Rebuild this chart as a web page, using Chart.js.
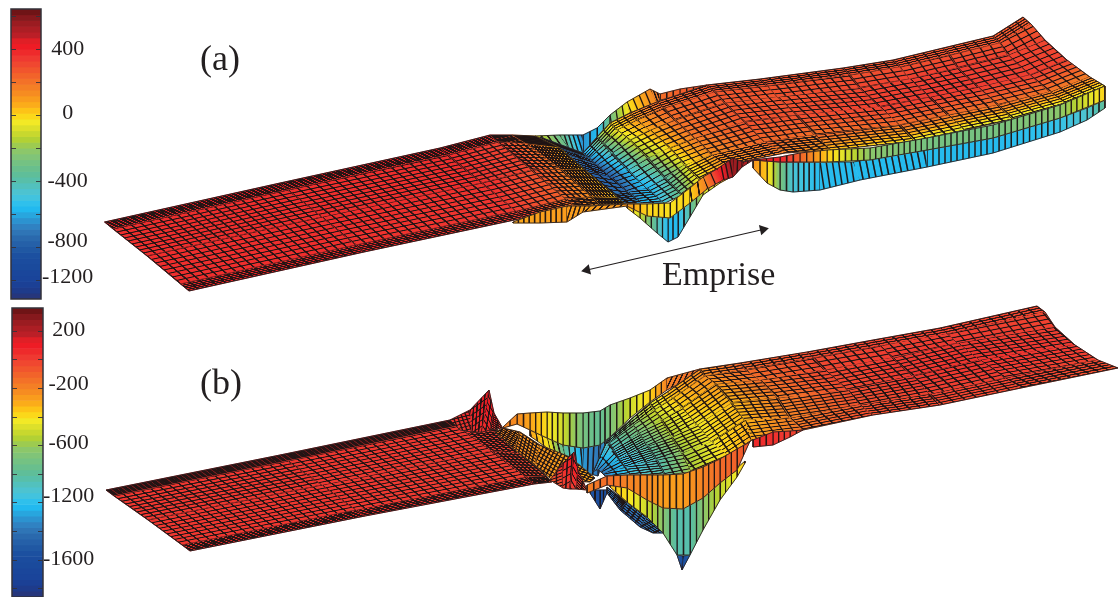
<!DOCTYPE html>
<html>
<head>
<meta charset="utf-8">
<script src="https://cdn.jsdelivr.net/npm/chart.js@4/dist/chart.umd.min.js"></script>
<style>
body { margin: 0; background: #fff; width: 1119px; height: 597px; overflow: hidden; position: relative; }
canvas { position: absolute; display: block; }
.txt { position: absolute; font-family: "Liberation Serif", serif; color: #231f20; line-height: 1; white-space: nowrap; }
</style>
</head>
<body>
<canvas id="bar-a" width="100" height="304" style="left:0;top:0"></canvas>
<canvas id="bar-b" width="100" height="293" style="left:0;top:304px"></canvas>
<canvas id="surface" width="1019" height="597" style="left:100px;top:0"></canvas>
<div class="txt" style="left:200px;top:40px;font-size:36px">(a)</div>
<div class="txt" style="left:200px;top:364px;font-size:36px">(b)</div>
<div class="txt" style="left:662px;top:257px;font-size:34px">Emprise</div>
<script>
// ==================== COLOUR BARS ====================
const bandColors = ['#6f1416','#86191d','#9b1c21','#ac1e24','#bb1f27','#e01f26','#ee1c25','#ee2a2b','#ef3931','#f04730',
  '#f1552d','#f2632a','#f37128','#f47f25','#f68c21','#f99c1d','#fbac1a','#fdc317','#fbd81a','#f2e926',
  '#dde02a','#c8d82e','#b2d134','#9dcb50','#8cc76a','#80c478','#74c283','#69bf8d','#5fbe99','#58bfa9',
  '#52c1bd','#4dc3d0','#42c3de','#2fc0ec','#22b9ef','#28a6de','#2c93d0','#3082c2','#2f75b6','#2a69ad',
  '#2560a8','#2058a3','#1c50a0','#1b4c9e','#1a4a9c','#1a469b','#1a449a','#1b4095','#1e3b8b','#26367c'];

const barARange = [-1113, 644];
const barATicks = [600, 400, 200, 0, -200, -400, -600, -800, -1000];
const barALabels = ['400', '0', '-400', '-800', '-1200'];
const barALabelAt = [400, 14, -398, -762, -980];

const barBRange = [-1662, 359];
const barBTicks = [200, 0, -200, -400, -600, -800, -1000, -1200, -1400, -1600];
const barBLabels = ['200', '-200', '-600', '-1200', '-1600'];
const barBLabelAt = [205, -173, -585, -956, -1396];

// ==================== PANEL (a) ====================
// back wall behind the bowl
const aBackX = [[535,560,583,597,610,627,650,660,680,707],[535,570,583,597,610,630,657,660,680,707]];
const aBackY = [[136,135,135,128,115,102,89,94,89,85],[136,149,153,137,123,113,102,100,96,87]];
const aBackZ = [-60,-330,-640,-560,-300,-20,150,210,250,290];
const aBackCols = [4,4,2,2,3,4,2,3,4];

// right hand surface, bowl included
const aRightX = [
  [540,583,597,610,630,657,707,760,843,893,943,993,1023],
  [545,589,604,617,637,664,715,767,850,900,950,1000,1031],
  [552,597,612,630,650,675,725,778,860,910,958,1008,1045],
  [575,612,628,648,670,695,745,797,880,930,978,1030,1067],
  [610,628,647,665,685,712,765,815,900,948,998,1050,1090],
  [625,643,665,682,700,725,785,832,915,965,1013,1065,1105]];
const aRightY = [
  [137,153,137,123,113,102,85,79,68,60,48,36,17],
  [143,158,144,130,120,108,92,86,75,67,55,43,24],
  [150,165,153,140,130,120,103,97,88,79,68,55,40],
  [168,178,170,158,148,138,122,115,107,97,87,75,60],
  [195,192,188,178,165,155,142,135,125,115,105,92,77],
  [204,203,203,195,180,165,153,150,141,130,119,103,86]];
const aRightZ = [
  [-760,-640,-230,-20,110,230,280,280,280,280,270,270,260],
  [-760,-680,-300,-30,100,225,275,280,290,290,290,280,270],
  [-760,-720,-420,-70,70,210,270,280,310,330,330,320,310],
  [-760,-800,-520,-200,10,180,280,290,330,340,340,330,320],
  [-760,-700,-560,-420,-50,130,230,210,220,210,200,200,160],
  [-760,-560,-500,-290,-30,100,170,60,-60,-90,-90,-70,-20]];
const aRightCols = [3,2,2,3,3,6,6,9,5,5,5,4];
const aRightRows = [4,3,5,5,6];

// front walls of the right strip
const aTopWallX = [[753,780,800,827,870,927,993,1060,1105],[753,780,800,827,870,927,993,1060,1105]];
const aTopWallY = [[160,157,153,150,148,138,125,105,86],[160,162,162,162,160,150,138,118,100]];
const aTopWallZ = [450,400,240,20,-220,-280,-280,-220,10];
const aTopWallCols = [4,3,4,7,10,11,11,8];

const aLowWallX = [[753,767,780,793,820,853,927,993,1060,1087,1105],[753,767,780,793,820,860,927,993,1060,1087,1105]];
const aLowWallY = [[160,161,162,162,162,162,150,138,118,108,100],[168,183,190,192,190,180,167,153,132,120,108]];
const aLowWallZ = [120,20,-260,-480,-550,-560,-560,-560,-520,-460,-360];
const aLowWallCols = [2,2,2,5,6,11,11,11,4,3];

// long flat strip on the left, up to the ridge
const aLeftX = [
  [104.5,280,440,490,512,535],
  [113,288,448,498,527,560],
  [147,322,482,532,562,585],
  [180.5,356,516,566,592,618],
  [189,364,524,575,600,625]];
const aLeftY = [
  [222,183,148,135,135,136],
  [229,190,155,142,144,148],
  [256,217,183,170,170,170],
  [284,245,211,199,197,198],
  [291,252,218,206,205,204]];
const aLeftZ = [
  [420,420,420,380,240,60],
  [370,370,370,330,220,40],
  [370,370,370,300,180,30],
  [370,370,340,230,120,20],
  [400,400,340,200,100,10]];
const aLeftCols = [19,17,6,5,8];
const aLeftRows = [6,9,8,5];

// front ribbon around the bowl
const aRibbonX = [[513,540,567,590,627,647,670,690,703,717,733,743,753],[513,540,567,583,627,647,670,690,707,723,733,742,753]];
const aRibbonY = [[222,212,206,206,204,204,203,188,177,169,158,162,160],[223,223,222,212,206,216,218,203,189,180,177,167,160]];
const aRibbonZ = [70,90,100,90,110,0,-20,0,150,400,560,530,450];
const aRibbonCols = [5,5,4,6,3,4,3,2,2,3,2,2];

const aFrontX = [[627,640,657,668,678,690,703,720,733,742],[627,640,657,668,678,690,703,720,733,742]];
const aFrontY = [[204,210,214,214,208,198,188,180,172,165],[208,218,233,242,237,217,195,183,176,167]];
const aFrontZ = [60,-100,-400,-560,-560,-380,-120,0,40,100];
const aFrontCols = [2,3,2,2,2,2,3,2,2];

// ==================== PANEL (b) ====================
const bWallLowX = [[530,547,563,583,600,610],[530,550,567,583,598,610]];
const bWallLowY = [[430,438,445,448,445,437],[436,450,462,472,476,438]];
const bWallLowZ = [-290,-420,-780,-1100,-1200,-1000];
const bWallLowCols = [3,3,3,3,2];

const bWallTopX = [[503,517,530,547,563,583,600,610,630,650,667,700],[503,517,530,547,563,583,600,610,630,650,667,690]];
const bWallTopY = [[427,414,413,412,413,413,411,405,398,390,378,369],[428,424,430,438,445,448,445,437,418,402,390,378]];
const bWallTopZ = [-200,-230,-290,-400,-500,-700,-780,-680,-500,-380,-200,-130];
const bWallTopCols = [2,2,3,3,3,3,2,3,3,3,5];

const bRightX = [
  [607,630,650,667,700,740,807,873,940,1037],
  [609,633,654,673,705,746,814,880,948,1045],
  [613,639,662,682,716,760,825,893,958,1055],
  [619,648,672,697,732,778,848,913,980,1075],
  [625,657,682,712,745,790,860,930,1005,1098],
  [631,665,692,728,752,803,873,940,1021,1118]];
const bRightY = [
  [440,420,403,392,369,363,352,340,328,306],
  [443,425,410,398,376,370,358,346,334,312],
  [450,433,420,408,384,380,370,358,343,327],
  [459,446,437,425,403,398,390,376,360,345],
  [467,460,453,442,420,418,405,394,378,360],
  [475,475,472,455,440,430,415,405,388,368]];
const bRightZ = [
  [-820,-640,-480,-330,-220,-110,-40,-20,-10,-30],
  [-850,-660,-490,-350,-230,-120,-30,-5,0,-20],
  [-920,-700,-520,-380,-260,-140,-20,10,20,-10],
  [-1000,-780,-560,-420,-340,-180,-40,20,30,20],
  [-1000,-860,-600,-420,-320,-200,-60,-10,0,-20],
  [-920,-820,-560,-380,-300,-140,-40,-30,-30,-60]];
const bRightCols = [3,3,3,4,5,7,7,7,10];
const bRightRows = [3,3,6,6,5];

// lower corner of the bowl, it closes to a point
const bCornerX = [[593,607],[596,609],[598,613],[601,619],[603,625],[605,631]];
const bCornerY = [[472,440],[470,443],[470,450],[472,459],[474,467],[476,475]];
const bCornerZ = [[-1180,-820],[-1180,-850],[-1180,-920],[-1180,-1000],[-1180,-1000],[-1180,-920]];
const bCornerCols = [2];
const bCornerRows = [1,1,2,2,2];

const bRedPieceX = [[753,773,790,803],[753,773,790,803]];
const bRedPieceY = [[440,432,431,430],[447,445,437,430]];
const bRedPieceZ = [60,40,0,-30];
const bRedPieceCols = [3,3,2];

const bLeftX = [
  [106,280,450,495],
  [114,288,458,501],
  [148,322,492,523],
  [182,356,526,546],
  [190,365,534,552]];
const bLeftY = [
  [490,455,420,427],
  [496,461,426,433],
  [520,485,451,454],
  [545,510,477,476],
  [551,516,484,482]];
const bLeftZ = [
  [90,90,90,30],
  [20,20,20,-10],
  [20,20,10,-30],
  [20,20,0,-50],
  [60,60,30,-60]];
const bLeftCols = [19,18,6];
const bLeftRows = [6,9,9,5];

const bSpikeX = [[450,470,489,494,502],[460,472,482,490,502]];
const bSpikeY = [[420,410,390,413,427],[430,432,432,430,428]];
const bSpikeZ = [[30,70,130,110,30],[10,30,50,40,0]];
const bSpikeCols = [4,4,2,2];
const bSpikeRows = [5];

const bRampX = [[503,520,540,570,595],[495,515,535,552,590]];
const bRampY = [[428,432,445,457,478],[432,450,465,480,482]];
const bRampZ = [[-210,-240,-260,-280,-300],[-200,-220,-240,-260,-280]];
const bRampCols = [5,6,7,8];
const bRampRows = [7];

const bSpike2X = [[550,563,574,578,587],[550,563,570,576,587]];
const bSpike2Y = [[480,463,452,470,490],[480,488,489,489,490]];
const bSpike2Z = [[-60,60,130,90,-40],[-80,-20,10,0,-60]];
const bSpike2Cols = [2,2,1,2];
const bSpike2Rows = [4];

const bTipX = [[590,600,607],[590,600,607]];
const bTipY = [[490,490,490],[493,509,493]];
const bTipZ = [-1350,-1380,-1350];
const bTipCols = [2,2];

const bUnderX = [[607,627,647,667],[607,620,640,653]];
const bUnderY = [[487,502,517,533],[493,510,527,533]];
const bUnderZ = [[-1200,-1200,-1180,-1150],[-1250,-1280,-1250,-1180]];
const bUnderCols = [4,4,3];
const bUnderRows = [5];

const bFrontX = [[610,627,647,663,677,690,703,720,737,745],[610,627,647,663,677,690,703,720,737,745]];
const bFrontY = [[484,486,498,506,507,505,496,481,468,461],[487,502,517,533,555,555,530,500,477,463]];
const bFrontZ = [-350,-400,-500,-640,-840,-840,-640,-520,-430,-350];
const bFrontCols = [3,3,3,2,2,2,3,3,1];

const bPointX = [[677,683,690],[677,682,690]];
const bPointY = [[555,556,555],[555,570,555]];
const bPointZ = [-1300,-1380,-1300];
const bPointCols = [1,1];

const bRibbonX = [[587,607,627,647,663,683,703,720,737,750],[587,607,627,647,663,683,703,720,737,750]];
const bRibbonY = [[485,476,475,475,475,474,467,459,449,442],[493,485,488,500,508,509,498,483,470,441]];
const bRibbonZ = [-200,-130,-200,-220,-270,-270,-200,-130,-100,-60];
const bRibbonCols = [3,3,3,3,3,3,3,3,2];

// arrow under (a)
const arrowX = [587, 763];
const arrowY = [270, 229.5];

// ==================== DIBUJO ====================
const surfaceCanvas = document.getElementById('surface');
const surfaceCtx = surfaceCanvas.getContext('2d');
const MESH_COLOR = 'rgba(30,20,20,0.97)';
const LINE_W = 1.1;
const CROSS_W = 1.5;

function hexRgb(h) { return [1, 3, 5].map(i => parseInt(h.substr(i, 2), 16)); }
const bandRgb = bandColors.map(hexRgb);

function colorAt(z, range) {
    const f = (range[1] - z) / (range[1] - range[0]);
    const pos = Math.min(bandRgb.length - 1.001, Math.max(0, f * bandRgb.length - 0.5));
    const i = Math.floor(pos), t = pos - i;
    const c = bandRgb[i].map((v, k) => Math.round(v + (bandRgb[i + 1][k] - v) * t));
    return `rgb(${c[0]},${c[1]},${c[2]})`;
}

const tileCache = {};
function meshTile(tw, th, fs, ft) {
    const key = [tw, th, fs.toFixed(2), ft.toFixed(2)].join('_');
    if (tileCache[key]) return tileCache[key];
    const c = document.createElement('canvas');
    c.width = tw; c.height = th;
    const g = c.getContext('2d');
    g.fillStyle = MESH_COLOR;
    const w = fs * tw / 2, h = ft * th / 2;
    if (w > 0) { g.fillRect(0, 0, w, th); g.fillRect(tw - w, 0, w, th); }
    if (h > 0) { g.fillRect(0, 0, tw, h); g.fillRect(0, th - h, tw, h); }
    tileCache[key] = c;
    return c;
}

// adds one quad: colour fill, then mesh lines as a pattern
function addQuad(list, p, z, range, nCols, nRows) {
    const [p00, p01, p11, p10] = p;
    const pts = [p00, p01, p11, p10, p00].map(q => ({ x: q[0], y: q[1] }));
    const ux = (p01[0] - p00[0] + p11[0] - p10[0]) / 2, uy = (p01[1] - p00[1] + p11[1] - p10[1]) / 2;
    const vx = (p10[0] - p00[0] + p11[0] - p01[0]) / 2, vy = (p10[1] - p00[1] + p11[1] - p01[1]) / 2;
    const det = ux * vy - uy * vx;
    const cx = (p00[0] + p01[0] + p11[0] + p10[0]) / 4 - 100, cy = (p00[1] + p01[1] + p11[1] + p10[1]) / 4;
    const zc = (z[0] + z[1] + z[2] + z[3]) / 4;
    const dU = (z[1] + z[2] - z[0] - z[3]) / 2, dV = (z[3] + z[2] - z[0] - z[1]) / 2;

    let fillStyle = colorAt(zc, range);
    if (Math.abs(det) > 1 && (Math.abs(dU) > 1 || Math.abs(dV) > 1)) {
        const gx = (dU * vy - dV * uy) / det, gy = (ux * dV - vx * dU) / det;
        const g2 = gx * gx + gy * gy;
        const half = Math.max(Math.abs(dU), Math.abs(dV)) * 0.75;
        const grad = surfaceCtx.createLinearGradient(
            cx - gx * half / g2, cy - gy * half / g2,
            cx + gx * half / g2, cy + gy * half / g2);
        for (let i = 0; i <= 8; i++) grad.addColorStop(i / 8, colorAt(zc - half + half * i / 4, range));
        fillStyle = grad;
    }
    list.push({ data: pts, showLine: true, fill: 'shape', backgroundColor: fillStyle,
        borderColor: fillStyle, borderWidth: 0.7, pointRadius: 0, tension: 0 });

    if (!nCols || Math.abs(det) < 2) return;
    const cux = ux / nCols, cuy = uy / nCols;
    const rows = nRows || 1;
    const cvx = vx / rows, cvy = vy / rows;
    const cross = Math.abs(cux * cvy - cuy * cvx);
    const lenU = Math.hypot(cux, cuy), lenV = Math.hypot(cvx, cvy);
    const fs = Math.min(1, CROSS_W / (cross / lenV));
    const ft = nRows ? Math.min(1, LINE_W / (cross / lenU)) : 0;
    const tw = Math.max(8, Math.min(64, Math.round(lenU * 2)));
    const th = Math.max(8, Math.min(64, Math.round(lenV * 2)));
    const tile = meshTile(tw, th, Math.round(fs * 20) / 20, Math.round(ft * 20) / 20);
    const pattern = surfaceCtx.createPattern(tile, 'repeat');
    pattern.setTransform(new DOMMatrix([cux / tw, cuy / tw, cvx / th, cvy / th, p00[0] - 100, p00[1]]));
    list.push({ data: pts, showLine: true, fill: 'shape', backgroundColor: pattern,
        borderWidth: 0, borderColor: 'rgba(0,0,0,0)', pointRadius: 0, tension: 0 });
}

function addOutline(list, xs, ys, width) {
    list.push({ data: xs.map((x, i) => ({ x, y: ys[i] })), showLine: true, fill: false,
        borderColor: '#2a2020', borderWidth: width || 0.9, pointRadius: 0, tension: 0 });
}

// X,Y,Z are rows x stations; no rows means a wall (no lines along the strip)
function addSheet(list, X, Y, Z, range, cols, rows) {
    const zRows = Array.isArray(Z[0]) ? Z : X.map(() => Z);
    for (let i = 0; i < X.length - 1; i++) {
        for (let j = 0; j < X[i].length - 1; j++) {
            addQuad(list,
                [[X[i][j], Y[i][j]], [X[i][j + 1], Y[i][j + 1]], [X[i + 1][j + 1], Y[i + 1][j + 1]], [X[i + 1][j], Y[i + 1][j]]],
                [zRows[i][j], zRows[i][j + 1], zRows[i + 1][j + 1], zRows[i + 1][j]],
                range, cols[j], rows ? rows[i] : 0);
        }
    }
    const last = X.length - 1;
    addOutline(list, X[0], Y[0]);
    addOutline(list, X[last], Y[last]);
    addOutline(list, X.map(r => r[0]), Y.map(r => r[0]));
    addOutline(list, X.map(r => r[r.length - 1]), Y.map(r => r[r.length - 1]));
}

const painter = [];
addSheet(painter, aBackX, aBackY, aBackZ, barARange, aBackCols);
addSheet(painter, aRightX, aRightY, aRightZ, barARange, aRightCols, aRightRows);
addSheet(painter, aLowWallX, aLowWallY, aLowWallZ, barARange, aLowWallCols);
addSheet(painter, aTopWallX, aTopWallY, aTopWallZ, barARange, aTopWallCols);
addSheet(painter, aLeftX, aLeftY, aLeftZ, barARange, aLeftCols, aLeftRows);
addSheet(painter, aFrontX, aFrontY, aFrontZ, barARange, aFrontCols);
addSheet(painter, aRibbonX, aRibbonY, aRibbonZ, barARange, aRibbonCols);

addSheet(painter, bWallLowX, bWallLowY, bWallLowZ, barBRange, bWallLowCols);
addSheet(painter, bWallTopX, bWallTopY, bWallTopZ, barBRange, bWallTopCols);
addSheet(painter, bRightX, bRightY, bRightZ, barBRange, bRightCols, bRightRows);
addSheet(painter, bCornerX, bCornerY, bCornerZ, barBRange, bCornerCols, bCornerRows);
addSheet(painter, bRedPieceX, bRedPieceY, bRedPieceZ, barBRange, bRedPieceCols);
addSheet(painter, bLeftX, bLeftY, bLeftZ, barBRange, bLeftCols, bLeftRows);
addSheet(painter, bSpikeX, bSpikeY, bSpikeZ, barBRange, bSpikeCols, bSpikeRows);
addSheet(painter, bRampX, bRampY, bRampZ, barBRange, bRampCols, bRampRows);
addSheet(painter, bTipX, bTipY, bTipZ, barBRange, bTipCols);
addSheet(painter, bUnderX, bUnderY, bUnderZ, barBRange, bUnderCols, bUnderRows);
addSheet(painter, bSpike2X, bSpike2Y, bSpike2Z, barBRange, bSpike2Cols, bSpike2Rows);
addSheet(painter, bPointX, bPointY, bPointZ, barBRange, bPointCols);
addSheet(painter, bFrontX, bFrontY, bFrontZ, barBRange, bFrontCols);
addSheet(painter, bRibbonX, bRibbonY, bRibbonZ, barBRange, bRibbonCols);

painter.push({
    data: arrowX.map((x, i) => ({ x, y: arrowY[i] })), showLine: true, fill: false, borderColor: '#231f20',
    borderWidth: 1.2, tension: 0, pointStyle: 'triangle', pointRadius: 6,
    pointRotation: [257, 77], pointBackgroundColor: '#231f20', pointBorderColor: '#231f20', pointBorderWidth: 0
});

// Chart.js draws the first dataset on top
new Chart(surfaceCtx, {
    type: 'scatter',
    data: { datasets: painter.reverse() },
    options: {
        responsive: false,
        animation: false,
        events: [],
        clip: false,
        layout: { autoPadding: false },
        plugins: { legend: { display: false }, tooltip: { enabled: false } },
        scales: {
            x: { type: 'linear', min: 100, max: 1119, display: false },
            y: { type: 'linear', min: 0, max: 597, reverse: true, display: false }
        }
    }
});

// ==================== COLOR BAR CHARTS ====================
function dibujarBarra(id, range, tickVals, labels, labelAt, pad, scaleW, tickPad) {
    const step = (range[1] - range[0]) / bandColors.length;
    const frame = {
        id: 'marco',
        afterDraw(chart) {
            const { ctx, chartArea: a, scales: { y } } = chart;
            ctx.save();
            ctx.strokeStyle = '#33323a';
            ctx.lineWidth = 0.9;
            tickVals.forEach(v => {
                const py = Math.round(y.getPixelForValue(v)) + 0.5;
                ctx.beginPath();
                ctx.moveTo(a.left, py); ctx.lineTo(a.left + 5, py);
                ctx.moveTo(a.right - 5, py); ctx.lineTo(a.right, py);
                ctx.stroke();
            });
            ctx.lineWidth = 1.5;
            ctx.strokeRect(a.left, a.top, a.right - a.left, a.bottom - a.top);
            ctx.restore();
        }
    };
    new Chart(document.getElementById(id).getContext('2d'), {
        type: 'bar',
        data: {
            labels: [''],
            datasets: bandColors.map((c, i) => ({
                data: [[range[1] - step * (i + 1), range[1] - step * i]],
                backgroundColor: c, borderWidth: 0,
                barPercentage: 1, categoryPercentage: 1, grouped: false
            }))
        },
        plugins: [frame],
        options: {
            responsive: false,
            animation: false,
            events: [],
            layout: { padding: pad, autoPadding: false },
            plugins: { legend: { display: false }, tooltip: { enabled: false } },
            scales: {
                x: { display: false },
                y: {
                    position: 'right', min: range[0], max: range[1],
                    grid: { display: false, drawTicks: false }, border: { display: false },
                    afterBuildTicks: axis => { axis.ticks = labelAt.map(value => ({ value })); },
                    afterFit: axis => { axis.width = scaleW; axis.paddingTop = 0; axis.paddingBottom = 0; },
                    ticks: {
                        autoSkip: false, maxRotation: 0, minRotation: 0, crossAlign: 'center', padding: tickPad,
                        color: '#231f20', font: { family: '"Liberation Serif"', size: 22 },
                        callback: (v, i) => labels[i]
                    }
                }
            }
        }
    });
}

dibujarBarra('bar-a', barARange, barATicks, barALabels, barALabelAt, { left: 11, top: 9, bottom: 5, right: 0 }, 59, 1);
dibujarBarra('bar-b', barBRange, barBTicks, barBLabels, barBLabelAt, { left: 12, top: 4, bottom: 0, right: 0 }, 57, 0);
</script>
</body>
</html>
